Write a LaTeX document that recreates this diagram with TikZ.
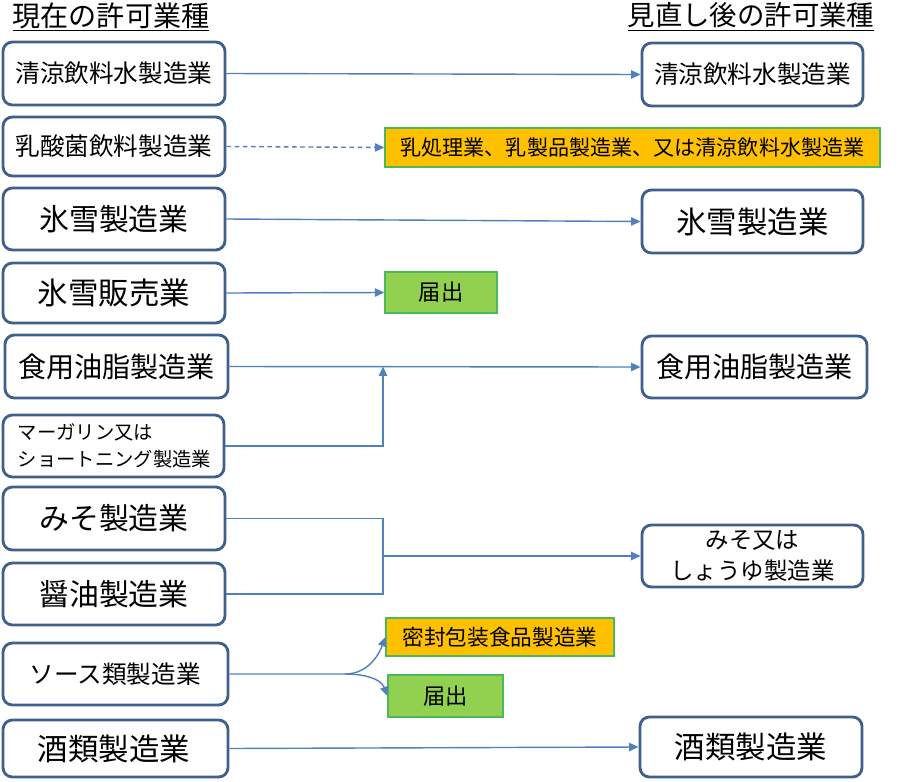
\documentclass[tikz,border=0pt]{standalone}
\usepackage{fontspec}
\setmainfont{Noto Sans CJK JP}
\usetikzlibrary{arrows.meta}

\definecolor{boxline}{HTML}{3F5F8C}
\definecolor{linkblue}{HTML}{4F81BD}
\definecolor{noteyellow}{HTML}{FFC000}
\definecolor{notegreen}{HTML}{92D050}
\definecolor{greenline}{HTML}{4BB85A}

\tikzset{
  permit/.style={draw=boxline, line width=2.4pt, rounded corners=8pt,
    minimum width=6.66cm, minimum height=1.86cm, inner sep=0pt},
  notice/.style={draw=greenline, line width=1.1pt, fill=#1,
    minimum height=1.2cm, inner sep=0pt},
  link/.style={draw=linkblue, line width=1.2pt},
  tip/.style={-{Triangle[length=8pt,width=7pt]}}
}

\begin{document}
\begin{tikzpicture}
\useasboundingbox (0,0) rectangle (27.09,-23.46);

% headings
\node[font=\fontsize{24}{28}\selectfont] (now) at (3.33,-0.5) {\underline{現在の許可業種}};
\node[font=\fontsize{23.4}{28}\selectfont] (new) at (22.53,-0.5) {\underline{見直し後の許可業種}};

% current permits
\node[permit, minimum height=1.89cm, font=\fontsize{21}{25}\selectfont] (seiryo) at (3.42,-2.205) {清涼飲料水製造業};
\node[permit, minimum height=1.77cm, font=\fontsize{21}{25}\selectfont] (lactic) at (3.42,-4.395) {乳酸菌飲料製造業};
\node[permit, font=\fontsize{25.5}{30}\selectfont] (ice) at (3.42,-6.57) {氷雪製造業};
\node[permit, minimum height=1.8cm, font=\fontsize{26}{30}\selectfont] (icesale) at (3.42,-8.79) {氷雪販売業};
\node[permit, minimum width=6.69cm, minimum height=1.89cm, font=\fontsize{24}{28}\selectfont] (oil) at (3.495,-10.995) {食用油脂製造業};
\node[permit, minimum width=6.63cm, inner xsep=0.45cm, text width=5.73cm, align=left,
  font=\fontsize{16.5}{23}\selectfont] (margarine) at (3.405,-13.38) {マーガリン又は\\ショートニング製造業};
\node[permit, minimum height=1.89cm, font=\fontsize{25.5}{30}\selectfont] (miso) at (3.42,-15.555) {みそ製造業};
\node[permit, font=\fontsize{25.5}{30}\selectfont] (soy) at (3.42,-17.82) {醤油製造業};
\node[permit, minimum width=6.75cm, inner xsep=0.8cm, text width=5.15cm, align=left,
  font=\fontsize{21}{25}\selectfont] (sauce) at (3.465,-20.22) {\mbox{ソース類製造業}};
\node[permit, minimum width=6.75cm, minimum height=1.71cm, inner xsep=1.05cm, text width=4.65cm, align=left,
  font=\fontsize{26}{30}\selectfont] (sake) at (3.465,-22.455) {\mbox{酒類製造業}};

% revised permits
\node[permit, minimum width=6.63cm, minimum height=1.89cm, font=\fontsize{21}{25}\selectfont] (seiryo2) at (22.575,-2.235) {清涼飲料水製造業};
\node[notice=noteyellow, minimum width=14.85cm, minimum height=1.17cm, font=\fontsize{18}{22}\selectfont] (milk) at (18.975,-4.425) {乳処理業、乳製品製造業、又は清涼飲料水製造業};
\node[permit, minimum width=6.63cm, minimum height=1.89cm, font=\fontsize{26}{30}\selectfont] (ice2) at (22.575,-6.645) {氷雪製造業};
\node[notice=notegreen, minimum width=3.36cm, minimum height=1.23cm, font=\fontsize{19}{23}\selectfont] (icenote) at (13.23,-8.775) {届出};
\node[permit, minimum width=6.75cm, font=\fontsize{24}{28}\selectfont] (oil2) at (22.635,-11.01) {食用油脂製造業};
\node[permit, minimum width=6.63cm, align=center, font=\fontsize{20}{26}\selectfont] (misosoy) at (22.575,-16.68) {みそ又は\\しょうゆ製造業};
\node[notice=noteyellow, minimum width=6.84cm, minimum height=1.14cm, font=\fontsize{18.5}{22}\selectfont] (sealed) at (15.0,-19.11) {密封包装食品製造業};
\node[notice=notegreen, minimum width=3.45cm, minimum height=1.26cm, font=\fontsize{19}{23}\selectfont] (saucenote) at (13.365,-20.88) {届出};
\node[permit, minimum width=6.66cm, minimum height=1.8cm, font=\fontsize{26}{30}\selectfont] (sake2) at (22.53,-22.41) {酒類製造業};

% connectors
\coordinate (fatjoin) at (11.49,-10.995);
\coordinate (misojoin) at (11.49,-16.68);
\coordinate (saucejoin) at (10.35,-20.22);

\draw[link,tip] (seiryo.east) -- (seiryo2.west);
\draw[link,tip,dash pattern=on 4pt off 3pt] (lactic.east) -- (milk.west);
\draw[link,tip] (ice.east) -- (ice2.west);
\draw[link,tip] (icesale.east) -- (icenote.west);
\draw[link,tip] (oil.east) -- (oil2.west);
\draw[link,tip] (margarine.east) -| (fatjoin);
\draw[link] (miso.east) -| (misojoin) |- (soy.east);
\draw[link,tip] (misojoin) -- (misosoy.west);
\draw[link,tip] (sauce.east) -- (saucejoin) to[out=0,in=-110] (sealed.west);
\draw[link,tip] (saucejoin) to[out=0,in=110] (saucenote.west);
\draw[link,tip] (sake.east) -- (sake2.west);
\end{tikzpicture}
\end{document}
